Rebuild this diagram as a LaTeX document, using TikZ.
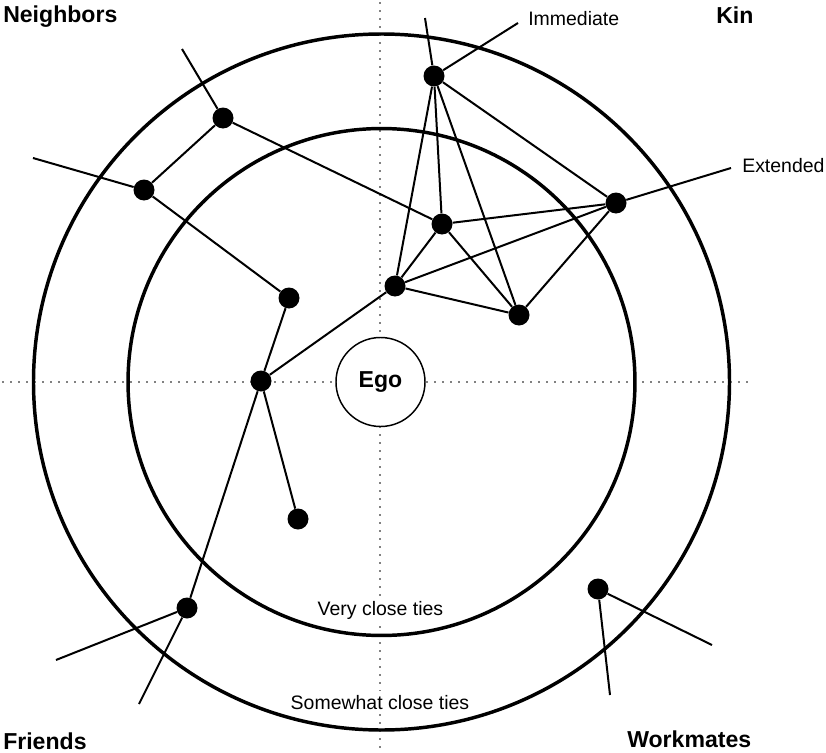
\documentclass[tikz,border=0pt]{standalone}
\usepackage{fontspec}
\setmainfont{Liberation Sans}
\begin{document}
\begin{tikzpicture}[x=0.75pt,y=-0.75pt,
  ring/.style={draw, line width=2.6pt},
  tie/.style={line width=1.5pt},
  dotline/.style={line width=1.2pt, line cap=round, dash pattern=on 0pt off 6pt},
  person/.style={circle, fill=black, inner sep=0pt, minimum size=15.75pt},
  catlabel/.style={font=\bfseries\fontsize{17.3pt}{20pt}\selectfont, inner sep=0pt, anchor=base west},
  linklabel/.style={font=\fontsize{14.6pt}{17pt}\selectfont, inner sep=0pt, anchor=base west},
  ringlabel/.style={font=\fontsize{14.6pt}{17pt}\selectfont, fill=white, inner sep=3pt, anchor=base},
  egostyle/.style={circle, draw, line width=1.1pt, fill=white, inner sep=0pt, minimum size=66.75pt, font=\bfseries\fontsize{17.3pt}{20pt}\selectfont}
]
\useasboundingbox (0,0) rectangle (826,753);

% dotted axes
\coordinate (vtop) at (380,3);
\coordinate (vbot) at (380,753);
\coordinate (hleft) at (3,382);
\coordinate (hright) at (750,382);
\draw[dotline] (vtop) -- (vbot);
\draw[dotline] (hleft) -- (hright);

% rings
\coordinate (ctr) at (381.5,382);
\draw[ring] (ctr) circle[radius=261pt];
\draw[ring] (ctr) circle[radius=190.1pt];

% people
\node[person] (a) at (434,76) {};
\node[person] (b) at (223,118) {};
\node[person] (c) at (144,190) {};
\node[person] (d) at (616,203) {};
\node[person] (e) at (442,224) {};
\node[person] (f) at (289,298) {};
\node[person] (g) at (395,286) {};
\node[person] (h) at (519,315) {};
\node[person] (i) at (261,381) {};
\node[person] (j) at (298,519) {};
\node[person] (k) at (187,608) {};
\node[person] (l) at (598,589) {};

% free ends
\coordinate (a0) at (425,18);
\coordinate (imm) at (518,23);
\coordinate (ext) at (731,168);
\coordinate (b0) at (182,49);
\coordinate (c0) at (33,158);
\coordinate (k0) at (56,660);
\coordinate (k1) at (139,704);
\coordinate (l0) at (712,645);
\coordinate (l1) at (610,695);

% ties
\draw[tie] (a) -- (e);
\draw[tie] (a) -- (g);
\draw[tie] (a) -- (h);
\draw[tie] (a) -- (d);
\draw[tie] (b) -- (c);
\draw[tie] (b) -- (e);
\draw[tie] (c) -- (f);
\draw[tie] (f) -- (i);
\draw[tie] (i) -- (g);
\draw[tie] (i) -- (j);
\draw[tie] (i) -- (k);
\draw[tie] (e) -- (d);
\draw[tie] (e) -- (g);
\draw[tie] (e) -- (h);
\draw[tie] (g) -- (d);
\draw[tie] (g) -- (h);
\draw[tie] (h) -- (d);
\draw[tie] (a) -- (a0);
\draw[tie] (a) -- (imm);
\draw[tie] (d) -- (ext);
\draw[tie] (b) -- (b0);
\draw[tie] (c) -- (c0);
\draw[tie] (k) -- (k0);
\draw[tie] (k) -- (k1);
\draw[tie] (l) -- (l0);
\draw[tie] (l) -- (l1);

% ego
\node[egostyle] (ego) at (380.5,382) {Ego};

% labels
\node[catlabel] (neigh) at (3,22) {Neighbors};
\node[catlabel] (kin) at (716,23) {Kin};
\node[catlabel] (friends) at (3,749) {Friends};
\node[catlabel] (work) at (627,747) {Workmates};
\node[linklabel] (immlabel) at (528,26) {Immediate};
\node[linklabel] (extlabel) at (742,172) {Extended};
\node[ringlabel] (vclose) at (380.5,615) {Very close ties};
\node[ringlabel] (sclose) at (380,709) {Somewhat close ties};
\end{tikzpicture}
\end{document}
